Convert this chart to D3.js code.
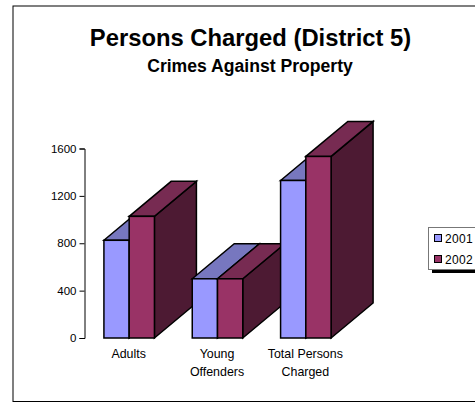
<!DOCTYPE html>
<html><head><meta charset="utf-8">
<script src="https://cdnjs.cloudflare.com/ajax/libs/d3/7.8.5/d3.min.js"></script>
<style>html,body{margin:0;padding:0;background:#fff;overflow:hidden}svg{display:block}text{font-family:"Liberation Sans",Arial,sans-serif;fill:#000}</style>
</head><body><svg id="c" width="475" height="403"></svg>
<script>
const categories = [["Adults"],["Young","Offenders"],["Total Persons","Charged"]];
const categoryKeys = ["Adults","Young Offenders","Total Persons Charged"];
const seriesNames = ["2001","2002"];
const values2001 = [825,500,1330];
const values2002 = [1027,500,1533];
const yTicks = [0,400,800,1200,1600];
const frontColors = ["#9999FF","#993366"];
const topColors = ["#7777BF","#772B52"];
const sideColors = ["#5A5A99","#4D1A33"];

const svg = d3.select("#c");
svg.append("rect").attr("x",13).attr("y",6).attr("width",480).attr("height",395.5)
  .attr("fill","#fff").attr("stroke","#000").attr("stroke-width",1);

svg.append("text").attr("x",250.5).attr("y",46).attr("text-anchor","middle")
  .attr("font-size",23.8).attr("font-weight","bold").text("Persons Charged (District 5)");
svg.append("text").attr("x",250).attr("y",71.5).attr("text-anchor","middle")
  .attr("font-size",17.6).attr("font-weight","bold").text("Crimes Against Property");

const y = d3.scaleLinear().domain([0,1600]).range([338,148.5]);
const x0 = d3.scaleBand().domain(categoryKeys).range([85,350]);
const x1 = d3.scaleBand().domain(seriesNames).range([0,50.5]);
const inset = (x0.bandwidth()-x1.range()[1])/2;
const dx = 42, dy = -35;

const axis = d3.axisLeft(y).tickValues(yTicks).tickSize(5).tickPadding(3).tickFormat(d3.format("d"));
const ag = svg.append("g").attr("transform","translate(84.5,0)").call(axis);
ag.selectAll("text").attr("font-size",11.5).style("font-family",'"Liberation Sans",Arial,sans-serif');
ag.selectAll("path,line").attr("stroke","#000");

const series = [values2001,values2002];
const marks = svg.append("g").attr("stroke","#000").attr("stroke-width",1.5).attr("stroke-linejoin","miter");
categoryKeys.forEach((c,i)=>{
  seriesNames.forEach((s,j)=>{
    const l = x0(c)+inset+x1(s), r = l+x1.bandwidth(), t = y(series[j][i]), b = y(0);
    const pt = a=>a.map(p=>p.join(",")).join(" ");
    marks.append("polygon").attr("points",pt([[r,t],[r+dx,t+dy],[r+dx,b+dy],[r,b]])).attr("fill",sideColors[j]);
    marks.append("polygon").attr("points",pt([[l,t],[l+dx,t+dy],[r+dx,t+dy],[r,t]])).attr("fill",topColors[j]);
    marks.append("rect").attr("x",l).attr("y",t).attr("width",r-l).attr("height",b-t).attr("fill",frontColors[j]);
  });
});

const labels = svg.append("g").attr("text-anchor","middle").attr("font-size",12.4);
categoryKeys.forEach((c,i)=>{
  categories[i].forEach((line,k)=>{
    labels.append("text").attr("x",x0(c)+x0.bandwidth()/2-0.5).attr("y",358+k*18).text(line);
  });
});

const lg = svg.append("g");
lg.append("rect").attr("x",432).attr("y",269).attr("width",50).attr("height",4).attr("fill","#000");
lg.append("rect").attr("x",428.5).attr("y",227.5).attr("width",60).attr("height",42).attr("fill","#fff").attr("stroke","#777").attr("stroke-width",1);
seriesNames.forEach((s,j)=>{
  const cy = 238+j*21;
  lg.append("rect").attr("x",434.5).attr("y",cy-3.5).attr("width",7).attr("height",7).attr("fill",frontColors[j]).attr("stroke","#000").attr("stroke-width",1);
  lg.append("text").attr("x",445).attr("y",cy+4.5).attr("font-size",12).attr("letter-spacing",0.3).text(s);
});
</script></body></html>
